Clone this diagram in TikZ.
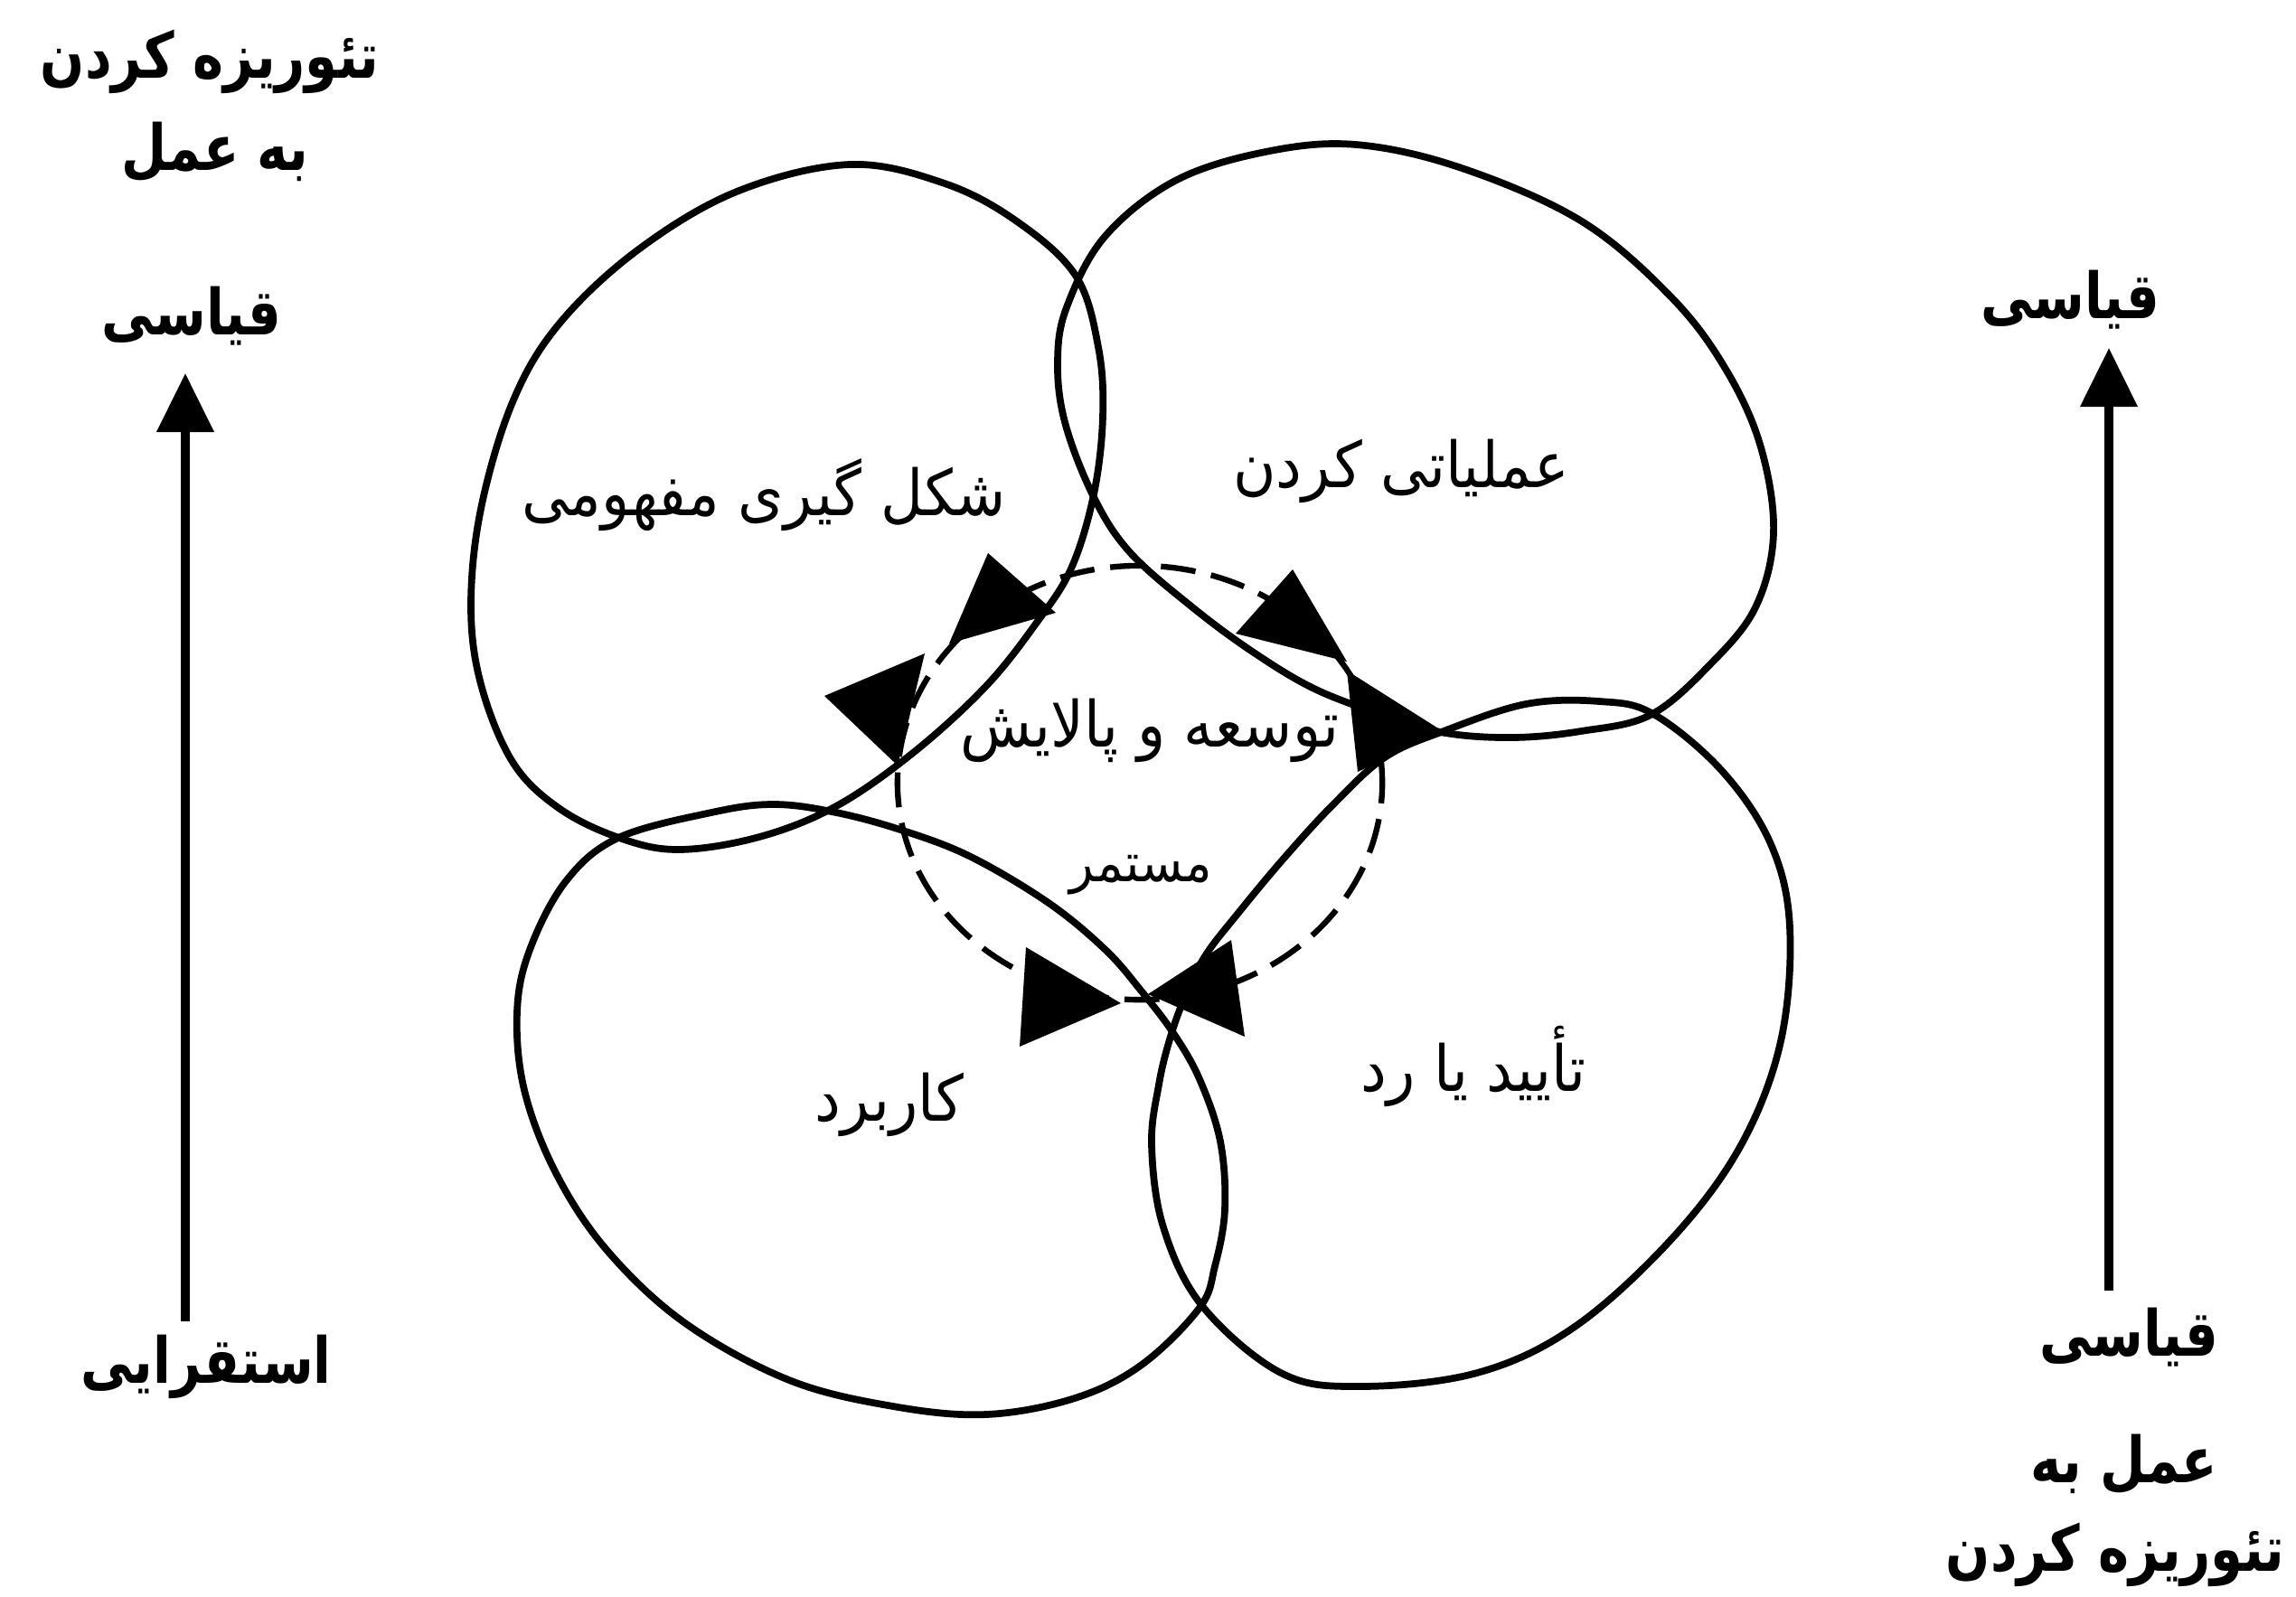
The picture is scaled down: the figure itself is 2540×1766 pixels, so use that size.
\documentclass[tikz,border=0pt]{standalone}
\usepackage{fontspec}
\usepackage{graphicx}
\usetikzlibrary{arrows.meta}
\TeXXeTstate=1
\newfontfamily\fa[Script=Arabic]{DejaVu Sans}
\newcommand{\sidetxt}[1]{\scalebox{0.82}[1]{\beginR #1\endR}}
\newcommand{\intxt}[1]{\scalebox{0.92}[1]{\beginR #1\endR}}
\begin{document}
\begin{tikzpicture}[x=0.01cm,y=-0.01cm,
  lobe/.style={line width=2.2pt, line join=round},
  dcirc/.style={line width=1.8pt, dash pattern=on 11pt off 5pt},
  tri/.style={fill=black},
  side/.style={font=\fa\bfseries\fontsize{20}{24}\selectfont, inner sep=0pt},
  inlab/.style={font=\fa\fontsize{20}{24}\selectfont, inner sep=0pt},
  smlab/.style={font=\fa\fontsize{17}{20}\selectfont, inner sep=0pt},
  axis/.style={line width=2.6pt, -{Triangle[length=18.5pt,width=17.5pt]}}]
\useasboundingbox[fill=white] (0,0) rectangle (2540,1766);

% lobes
\draw[lobe] plot[smooth cycle, tension=0.6] coordinates {(940,182) (1045,203) (1125,245) (1190,305) (1215,384) (1220,461) (1210,547) (1185,629) (1146,690) (1090,760) (1010,833) (925,892) (840,926) (751,940) (685,927) (618,894) (567,843) (532,757) (521,670) (532,563) (567,445) (618,359) (705,277) (815,212)};
\draw[lobe] plot[smooth cycle, tension=0.6] coordinates {(1180,340) (1222,262) (1300,200) (1400,168) (1500,160) (1617,186) (1750,245) (1850,330) (1910,410) (1948,495) (1962,590) (1942,672) (1892,735) (1826,791) (1749,809) (1674,816) (1599,811) (1536,793) (1456,763) (1387,722) (1318,671) (1249,610) (1209,548) (1178,467) (1170,400)};
\draw[lobe] plot[smooth cycle, tension=0.6] coordinates {(684,927) (787,899) (856,890) (925,899) (999,919) (1074,948) (1160,999) (1223,1051) (1263,1097) (1298,1143) (1327,1194) (1350,1263) (1355,1338) (1344,1401) (1327,1447) (1263,1510) (1189,1547) (1091,1565) (988,1556) (873,1527) (758,1464) (672,1384) (615,1298) (580,1206) (572,1120) (586,1051) (626,975)};
\draw[lobe] plot[smooth cycle, tension=0.6] coordinates {(1597,809) (1688,779) (1769,776) (1829,790) (1905,853) (1959,934) (1980,1026) (1970,1152) (1926,1267) (1850,1370) (1742,1468) (1634,1519) (1504,1534) (1417,1519) (1330,1445) (1287,1358) (1274,1267) (1282,1200) (1294,1150) (1310,1105) (1333,1058) (1370,1010) (1420,950) (1475,890) (1532,838)};

% dashed cycle
\draw[dcirc] (1261,866) ellipse [x radius=2.68cm, y radius=2.40cm];

% arrowheads on the cycle
\fill[tri] (1093,612) -- (1050,712) -- (1168,678) -- cycle;
\fill[tri] (1023,723) -- (912,770) -- (993,847) -- cycle;
\fill[tri] (1430,630) -- (1367,701) -- (1490,732) -- cycle;
\fill[tri] (1490,742) -- (1502,854) -- (1596,809) -- cycle;
\fill[tri] (1135,1048) -- (1128,1158) -- (1240,1110) -- cycle;
\fill[tri] (1270,1100) -- (1362,1040) -- (1377,1147) -- cycle;

% lobe labels
\node[inlab] (tl) at (845,548) {\intxt{شکل گیری مفهومی}};
\node[inlab] (tr) at (1550,521) {\intxt{عملیاتی کردن}};
\node[inlab] (bl) at (984,1222) {\intxt{کاربرد}};
\node[inlab] (br) at (1630,1180) {\intxt{تأیید یا رد}};
\node[inlab] (c1) at (1272,808) {\intxt{توسعه و پالایش}};
\node[smlab] (c2) at (1262,968) {\intxt{مستمر}};

% left axis
\node[side] (l1) at (232,68) {\sidetxt{تئوریزه کردن}};
\node[side] (l2) at (238,168) {\sidetxt{به عمل}};
\node[side] (l3) at (212,350) {\sidetxt{قیاسی}};
\node[side] (l4) at (228,1512) {\sidetxt{استقرایی}};
\coordinate (lb) at (205,1462);
\coordinate (lt) at (205,413);
\draw[axis] (lb) -- (lt);

% right axis
\node[side] (r1) at (2290,332) {\sidetxt{قیاسی}};
\node[side] (r2) at (2355,1480) {\sidetxt{قیاسی}};
\node[side] (r3) at (2350,1620) {\sidetxt{عمل به}};
\node[side] (r4) at (2340,1720) {\sidetxt{تئوریزه کردن}};
\coordinate (rb) at (2333,1428);
\coordinate (rt) at (2333,385);
\draw[axis] (rb) -- (rt);
\end{tikzpicture}
\end{document}
